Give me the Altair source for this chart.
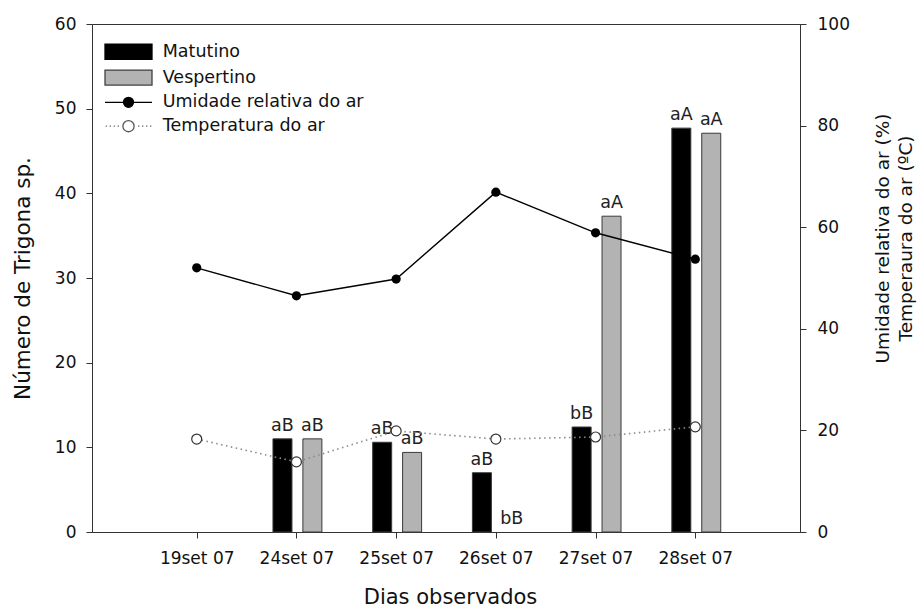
import altair as alt
import pandas as pd

# ---------------- data ----------------
dias = ["19set 07", "24set 07", "25set 07", "26set 07", "27set 07", "28set 07"]
dia_idx = [1, 2, 3, 4, 5, 6]
series = ["Matutino", "Vespertino", "Umidade relativa do ar", "Temperatura do ar"]

matutino = [0, 11.0, 10.6, 7.0, 12.4, 47.7]
vespertino = [0, 11.0, 9.4, 0, 37.3, 47.1]
rotulos_mat = ["", "aB", "aB", "aB", "bB", "aA"]
rotulos_vesp = ["", "aB", "aB", "bB", "aA", "aA"]

umidade = [52.0, 46.5, 49.8, 66.9, 58.9, 53.7]
temperatura = [18.3, 13.8, 19.9, 18.3, 18.7, 20.7]

left_ticks = [0, 10, 20, 30, 40, 50, 60]
right_ticks = [0, 20, 40, 60, 80, 100]

barras = pd.DataFrame({
    "dia": dia_idx * 2,
    "serie": [series[0]] * 6 + [series[1]] * 6,
    "valor": matutino + vespertino,
    "rotulo": rotulos_mat + rotulos_vesp,
})
linhas = pd.DataFrame({"dia": dia_idx, "umidade": umidade, "temperatura": temperatura})

# ---------------- style ----------------
FONT = "DejaVu Sans"
W, H = 708, 508
GRAY = "#b3b3b3"

xscale = alt.Scale(domain=[0, 7], nice=False, zero=False)
label_expr = "[" + ",".join(["''"] + ["'%s'" % d for d in dias]) + "][datum.value]"
xaxis = alt.Axis(values=dia_idx, labelExpr=label_expr, title="Dias observados",
                 grid=False, tickSize=6, labelPadding=12, titleX=358, titleY=71,
                 titleBaseline="alphabetic", titleAlign="center", titleFontSize=21)
X = alt.X("pos:Q", scale=xscale, axis=xaxis)

yL_axis = alt.Axis(values=left_ticks, title="Número de Trigona sp.", grid=False,
                   tickSize=6, labelPadding=10, titleAngle=270, titleX=-69, titleY=254,
                   titleAlign="center", titleBaseline="middle", titleFontSize=21.5)
yL_scale = alt.Scale(domain=[0, 60], nice=False)

yR_axis = alt.Axis(orient="right", values=right_ticks,
                   title=["Umidade relativa do ar (%)", "Temperaura do ar (ºC)"],
                   grid=False, tickSize=6, labelPadding=11, titleAngle=270,
                   titleX=82, titleY=214, titleAlign="center", titleBaseline="middle",
                   titleFontSize=18.5, titleLineHeight=23)
yR_scale = alt.Scale(domain=[0, 100], nice=False)

# legend symbols (custom paths, 1 unit = 4 px with symbol size 64)
rect = "M-5.875,-1.875H5.875V1.875H-5.875Z"
linha_ponto = "M-5.875,0H5.875M-1.25,0A1.25,1.25,0,1,0,1.25,0A1.25,1.25,0,1,0,-1.25,0Z"
dots = "".join("M%s,0h0.3" % x for x in [-5.7, -4.7, -3.7, -2.7, 2.4, 3.4, 4.4, 5.4])
linha_circ = dots + "M-1.4,0A1.4,1.4,0,1,0,1.4,0A1.4,1.4,0,1,0,-1.4,0Z"


def by_serie(vals):
    return {"expr": "datum.value === '%s' ? '%s' : datum.value === '%s' ? '%s' : datum.value === '%s' ? '%s' : '%s'" % (
        series[0], vals[0], series[1], vals[1], series[2], vals[2], vals[3])}


legend = alt.Legend(
    title=None, orient="none", legendX=13, legendY=19, padding=0,
    symbolType=by_serie([rect, rect, linha_ponto, linha_circ]),
    symbolStrokeColor=by_serie(["black", "#404040", "black", "#555555"]),
    symbolSize=64, symbolStrokeWidth=1.3, symbolOffset=14.75, labelOffset=25.5,
    rowPadding=4.8,
    labelFont=FONT, labelFontSize=17.5, labelColor="#111", labelLimit=400,
)

# ---------------- layers ----------------
base = alt.Chart(barras).transform_calculate(
    pos="datum.dia + (datum.serie === 'Matutino' ? -0.14 : 0.16)"
)
bars = base.transform_filter("datum.valor > 0").mark_bar(
    size=19, stroke="#3a3a3a", strokeWidth=1
).encode(
    x=X,
    y=alt.Y("valor:Q", scale=yL_scale, axis=yL_axis),
    color=alt.Color("serie:N", scale=alt.Scale(domain=series, range=["black", GRAY, "black", "white"]),
                    legend=legend),
)
bar_labels = base.transform_filter("datum.rotulo !== ''").mark_text(
    font=FONT, fontSize=17.5, dy=-8, baseline="alphabetic", color="#222"
).encode(
    x=X,
    y=alt.Y("valor:Q", scale=yL_scale, axis=yL_axis),
    text="rotulo:N",
)
left = alt.layer(bars, bar_labels)

lin = alt.Chart(linhas).transform_calculate(pos="datum.dia")
yH = alt.Y("umidade:Q", scale=yR_scale, axis=yR_axis)
yT = alt.Y("temperatura:Q", scale=yR_scale, axis=yR_axis)
tmp_line = lin.mark_line(color="#8a8a8a", strokeWidth=1.6, strokeDash=[1.5, 3.5]).encode(x=X, y=yT)
hum_line = lin.mark_line(color="black", strokeWidth=1.4).encode(x=X, y=yH)
tmp_pts = lin.mark_point(filled=True, fill="white", stroke="#333333", strokeWidth=1.2,
                         size=100, opacity=1).encode(x=X, y=yT)
hum_pts = lin.mark_point(filled=True, color="black", size=85, opacity=1).encode(x=X, y=yH)
right = alt.layer(tmp_line, hum_line, tmp_pts, hum_pts)

chart = alt.layer(left, right).resolve_scale(y="independent").properties(
    width=W, height=H,
    padding={"left": 92, "top": 24, "right": 123, "bottom": 79},
    autosize=alt.AutoSizeParams(type="none"),
).configure_view(
    stroke="#333333", strokeWidth=1
).configure_axis(
    labelFont=FONT, labelFontSize=17, labelColor="#111",
    titleFont=FONT, titleFontWeight="normal", titleColor="#111",
    domainColor="#333333", tickColor="#333333", domainWidth=1, tickWidth=1,
)

chart.save("out.html", embed_options={"renderer": "svg", "actions": False})
